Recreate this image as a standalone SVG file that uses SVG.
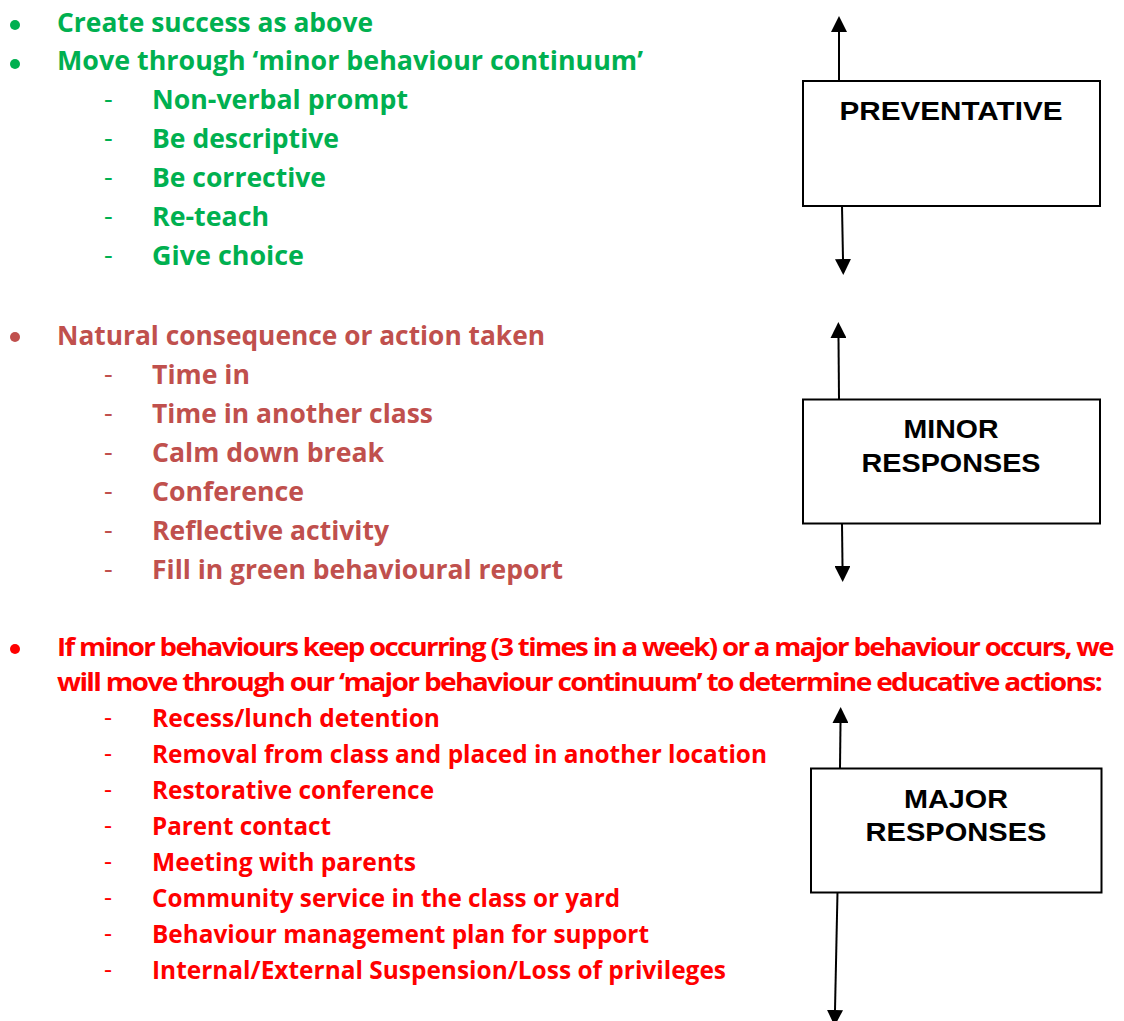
<svg xmlns="http://www.w3.org/2000/svg" width="1124" height="1021" viewBox="0 0 1124 1021">
<style>
  .t { font-family: "Open Sans", "Noto Sans", sans-serif; font-weight: 700; }
  .g { fill: #00B050; font-size: 27px; }
  .b { fill: #C0504D; font-size: 27px; }
  .r { fill: #FF0000; font-size: 25px; }
  .d { font-weight: 400; }
  .tight { letter-spacing: -1.5px; }
  .box { fill: #FFFFFF; stroke: #000000; stroke-width: 2; }
  .lbl { font-family: "Liberation Sans", Arial, sans-serif; font-weight: 700; font-size: 26px; fill: #000000; text-anchor: middle; }
  .conn { stroke: #000000; stroke-width: 2; fill: none; marker-end: url(#ah); }
</style>
<defs>
  <marker id="ah" viewBox="0 0 16 16" refX="0" refY="8" markerWidth="16" markerHeight="16" markerUnits="userSpaceOnUse" orient="auto">
    <path d="M0,0 L16,8 L0,16 Z" fill="#000000"/>
  </marker>
</defs>
<rect x="0" y="0" width="1124" height="1021" fill="#FFFFFF"/>

<g id="preventative-list" class="t">
  <circle cx="15" cy="25" r="5" fill="#00B050"/>
  <circle cx="15" cy="64" r="5" fill="#00B050"/>
  <text class="g" x="57" y="32" textLength="316" lengthAdjust="spacingAndGlyphs">Create success as above</text>
  <text class="g" x="57" y="70" textLength="586" lengthAdjust="spacingAndGlyphs">Move through ‘minor behaviour continuum’</text>
  <text class="g d" x="104" y="108">-</text>
  <text class="g" x="152" y="109" textLength="256" lengthAdjust="spacingAndGlyphs">Non-verbal prompt</text>
  <text class="g d" x="104" y="147">-</text>
  <text class="g" x="152" y="148" textLength="187" lengthAdjust="spacingAndGlyphs">Be descriptive</text>
  <text class="g d" x="104" y="186">-</text>
  <text class="g" x="152" y="187" textLength="174" lengthAdjust="spacingAndGlyphs">Be corrective</text>
  <text class="g d" x="104" y="225">-</text>
  <text class="g" x="152" y="226" textLength="117" lengthAdjust="spacingAndGlyphs">Re-teach</text>
  <text class="g d" x="104" y="264">-</text>
  <text class="g" x="152" y="265" textLength="152" lengthAdjust="spacingAndGlyphs">Give choice</text>
</g>

<g id="minor-list" class="t">
  <circle cx="15" cy="337" r="5" fill="#C0504D"/>
  <text class="b" x="57" y="345" textLength="488" lengthAdjust="spacingAndGlyphs">Natural consequence or action taken</text>
  <text class="b d" x="104" y="383">-</text>
  <text class="b" x="152" y="384" textLength="98" lengthAdjust="spacingAndGlyphs">Time in</text>
  <text class="b d" x="104" y="422">-</text>
  <text class="b" x="152" y="423" textLength="281" lengthAdjust="spacingAndGlyphs">Time in another class</text>
  <text class="b d" x="104" y="461">-</text>
  <text class="b" x="152" y="462" textLength="232" lengthAdjust="spacingAndGlyphs">Calm down break</text>
  <text class="b d" x="104" y="500">-</text>
  <text class="b" x="152" y="501" textLength="152" lengthAdjust="spacingAndGlyphs">Conference</text>
  <text class="b d" x="104" y="539">-</text>
  <text class="b" x="152" y="540" textLength="237" lengthAdjust="spacingAndGlyphs">Reflective activity</text>
  <text class="b d" x="104" y="578">-</text>
  <text class="b" x="152" y="579" textLength="411" lengthAdjust="spacingAndGlyphs">Fill in green behavioural report</text>
</g>

<g id="major-list" class="t">
  <circle cx="15" cy="649" r="5" fill="#FF0000"/>
  <text class="r tight" x="57" y="656" textLength="1056" lengthAdjust="spacingAndGlyphs">If minor behaviours keep occurring (3 times in a week) or a major behaviour occurs, we</text>
  <text class="r tight" x="57" y="691" textLength="1044" lengthAdjust="spacingAndGlyphs">will move through our ‘major behaviour continuum’ to determine educative actions:</text>
  <text class="r d" x="104" y="726">-</text>
  <text class="r" x="152" y="727" textLength="288" lengthAdjust="spacingAndGlyphs">Recess/lunch detention</text>
  <text class="r d" x="104" y="762">-</text>
  <text class="r" x="152" y="763" textLength="615" lengthAdjust="spacingAndGlyphs">Removal from class and placed in another location</text>
  <text class="r d" x="104" y="798">-</text>
  <text class="r" x="152" y="799" textLength="282" lengthAdjust="spacingAndGlyphs">Restorative conference</text>
  <text class="r d" x="104" y="834">-</text>
  <text class="r" x="152" y="835" textLength="179" lengthAdjust="spacingAndGlyphs">Parent contact</text>
  <text class="r d" x="104" y="870">-</text>
  <text class="r" x="152" y="871" textLength="264" lengthAdjust="spacingAndGlyphs">Meeting with parents</text>
  <text class="r d" x="104" y="906">-</text>
  <text class="r" x="152" y="907" textLength="468" lengthAdjust="spacingAndGlyphs">Community service in the class or yard</text>
  <text class="r d" x="104" y="942">-</text>
  <text class="r" x="152" y="943" textLength="497" lengthAdjust="spacingAndGlyphs">Behaviour management plan for support</text>
  <text class="r d" x="104" y="978">-</text>
  <text class="r" x="152" y="979" textLength="574" lengthAdjust="spacingAndGlyphs">Internal/External Suspension/Loss of privileges</text>
</g>

<g id="connectors">
  <line class="conn" x1="839" y1="81" x2="839" y2="32"/>
  <line class="conn" x1="842" y1="206" x2="843" y2="259"/>
  <line class="conn" x1="839" y1="399" x2="838.5" y2="338"/>
  <line class="conn" x1="842" y1="523" x2="842.5" y2="566"/>
  <line class="conn" x1="840" y1="768" x2="840.5" y2="723"/>
  <line class="conn" x1="837.5" y1="892" x2="835" y2="1010"/>
</g>

<g id="node-preventative">
  <rect class="box" x="803" y="81" width="297" height="125"/>
  <text class="lbl" x="951" y="120" textLength="223" lengthAdjust="spacingAndGlyphs">PREVENTATIVE</text>
</g>

<g id="node-minor">
  <rect class="box" x="803" y="399.5" width="297" height="124"/>
  <text class="lbl" x="951" y="438" textLength="95" lengthAdjust="spacingAndGlyphs">MINOR</text>
  <text class="lbl" x="951" y="472" textLength="179" lengthAdjust="spacingAndGlyphs">RESPONSES</text>
</g>

<g id="node-major">
  <rect class="box" x="811" y="768.5" width="290.5" height="124"/>
  <text class="lbl" x="956" y="807.5" textLength="104" lengthAdjust="spacingAndGlyphs">MAJOR</text>
  <text class="lbl" x="956" y="841" textLength="181" lengthAdjust="spacingAndGlyphs">RESPONSES</text>
</g>
</svg>
